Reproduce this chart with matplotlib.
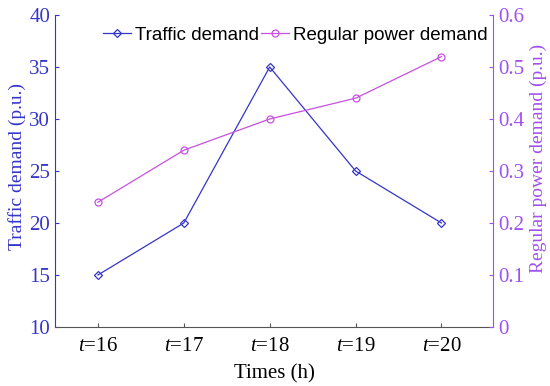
import matplotlib
matplotlib.use("Agg")
from matplotlib import pyplot as plt

# data
hours = [16, 17, 18, 19, 20]
traffic = [15, 20, 35, 25, 20]
power = [0.24, 0.34, 0.40, 0.44, 0.52]

blue = "#3535c8"
mag = "#c850e0"
purple = "#a050f0"

plt.rcParams["font.family"] = "Liberation Serif"
plt.rcParams["mathtext.fontset"] = "custom"
plt.rcParams["mathtext.it"] = "Liberation Serif:italic"
plt.rcParams["mathtext.rm"] = "Liberation Serif"

fig = plt.figure(figsize=(5.5, 3.86), dpi=100)
ax = fig.add_axes([55 / 550, 1 - 327 / 386, 438 / 550, 312 / 386])
ax2 = ax.twinx()

l1, = ax.plot(hours, traffic, color=blue, lw=0.9, marker="D", ms=4.5,
              mfc="none", mec=blue, mew=0.9, label="Traffic demand")
l2, = ax2.plot(hours, power, color=mag, lw=0.9, marker="o", ms=5,
               mfc="none", mec=mag, mew=0.9, label="Regular power demand")

ax.set_xlim(15.5, 20.6)
ax.set_ylim(10, 40)
ax2.set_ylim(0, 0.6)
ax.set_xticks(hours)
ax.set_xticklabels([f"$t$=%d" % h for h in hours])
ax.set_yticks(range(10, 41, 5))
ax2.set_yticks([0, 0.1, 0.2, 0.3, 0.4, 0.5, 0.6])
ax2.set_yticklabels(["0", "0.1", "0.2", "0.3", "0.4", "0.5", "0.6"])

for a in (ax, ax2):
    a.spines["top"].set_visible(False)
    a.tick_params(direction="in", length=3, labelsize=15)
ax.spines["right"].set_visible(False)
ax.spines["left"].set_color(blue)
ax.spines["bottom"].set_color("#555555")
ax2.spines["left"].set_visible(False)
ax2.spines["bottom"].set_visible(False)
ax2.spines["right"].set_color(purple)
ax.tick_params(axis="y", colors=blue)
ax.tick_params(axis="x", colors="#555555", labelcolor="black", pad=7)
ax2.tick_params(axis="y", colors=purple)

ax.set_xlabel("Times (h)", fontsize=15, labelpad=6)
ax.set_ylabel("Traffic demand (p.u.)", fontsize=14, color=blue,
              labelpad=2, y=0.516)
ax2.set_ylabel("Regular power demand (p.u.)", fontsize=14, color=purple,
               labelpad=4, y=0.54)

ax.legend(handles=[l1, l2], loc="center", ncol=2, frameon=False,
          prop={"family": "Liberation Sans", "size": 13.5},
          handlelength=1.5, handletextpad=0.2, columnspacing=0.1,
          bbox_to_anchor=(0.548, 0.936))

fig.savefig("out.png", dpi=100)
